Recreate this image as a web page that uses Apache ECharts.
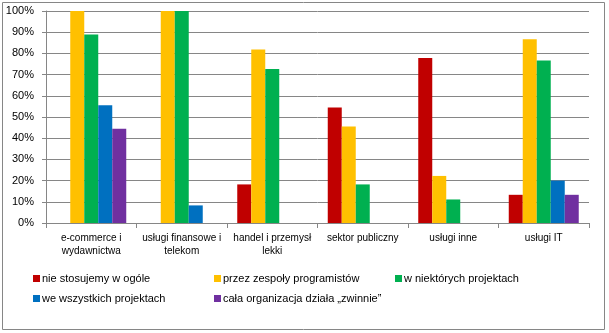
<!DOCTYPE html>
<html>
<head>
<meta charset="utf-8">
<script src="https://cdn.jsdelivr.net/npm/echarts@6/dist/echarts.min.js"></script>
<style>
  html, body { margin: 0; padding: 0; background: #fff; }
  #chart { width: 609px; height: 333px; }
</style>
</head>
<body>
<div id="chart"></div>
<script>
// Sector categories (x axis)
const categories = [
  'e-commerce i\nwydawnictwa',
  'usługi finansowe i\ntelekom',
  'handel i przemysł\nlekki',
  'sektor publiczny',
  'usługi inne',
  'usługi IT'
];

// Y axis ticks (percent)
const yTicks = [0, 10, 20, 30, 40, 50, 60, 70, 80, 90, 100];

// Series values, percent per sector
const nieStosujemy      = [0, 0, 18.2, 54.5, 77.8, 13.3];
const zespolyProgram    = [100, 100, 81.8, 45.5, 22.2, 86.7];
const niektoreProjekty  = [88.9, 100, 72.7, 18.2, 11.1, 76.7];
const wszystkieProjekty = [55.6, 8.3, 0, 0, 0, 20.0];
const calaOrganizacja   = [44.4, 0, 0, 0, 0, 13.3];

const seriesNames = [
  'nie stosujemy w ogóle',
  'przez zespoły programistów',
  'w niektórych projektach',
  'we wszystkich projektach',
  'cała organizacja działa „zwinnie”'
];
const seriesData = [nieStosujemy, zespolyProgram, niektoreProjekty, wszystkieProjekty, calaOrganizacja];
const colors = ['#C00000', '#FFC000', '#00B050', '#0070C0', '#7030A0'];

const font = 'Liberation Sans';
const gridColor = '#868686';

// legend laid out as a 3-column grid
const legendPos = [
  { left: 33, top: 273 },
  { left: 214, top: 273 },
  { left: 395, top: 273 },
  { left: 33, top: 293 },
  { left: 214, top: 293 }
];

const chart = echarts.init(document.getElementById('chart'), null, { renderer: 'canvas' });

chart.setOption({
  animation: false,
  backgroundColor: '#fff',
  color: colors,
  grid: { left: 46, right: 20, top: 11, bottom: 110, containLabel: false },
  legend: seriesNames.map((n, i) => ({
    data: [n],
    left: legendPos[i].left,
    top: legendPos[i].top,
    icon: 'rect',
    itemWidth: 7,
    itemHeight: 7,
    itemGap: 0,
    padding: 0,
    selectedMode: false,
    textStyle: { fontFamily: font, fontSize: 11, color: '#000', padding: [0, 0, 0, -3] }
  })),
  xAxis: {
    type: 'category',
    data: categories,
    axisLine: { show: true, lineStyle: { color: gridColor, width: 1 } },
    axisTick: { show: true, length: 5, lineStyle: { color: gridColor } },
    axisLabel: {
      interval: 0,
      margin: 9,
      fontFamily: font,
      fontSize: 10,
      lineHeight: 13,
      color: '#000'
    }
  },
  yAxis: {
    type: 'value',
    min: 0,
    max: 100,
    interval: 10,
    axisLine: { show: true, lineStyle: { color: gridColor, width: 1 } },
    axisTick: { show: true, length: 4, lineStyle: { color: gridColor } },
    splitLine: { show: true, lineStyle: { color: gridColor, width: 1 } },
    axisLabel: {
      margin: 12,
      fontFamily: font,
      fontSize: 11,
      color: '#000',
      formatter: v => yTicks.includes(v) ? v + '%' : ''
    }
  },
  series: seriesNames.map((n, i) => ({
    name: n,
    type: 'bar',
    data: seriesData[i],
    barWidth: 14,
    barGap: '0%',
    barCategoryGap: '22%',
    itemStyle: { color: colors[i] }
  })),
  graphic: [{
    type: 'rect',
    shape: { x: 2.5, y: 2.5, width: 602, height: 327 },
    style: { fill: 'none', stroke: gridColor, lineWidth: 1 },
    silent: true,
    z: 100
  }]
});
</script>
</body>
</html>
